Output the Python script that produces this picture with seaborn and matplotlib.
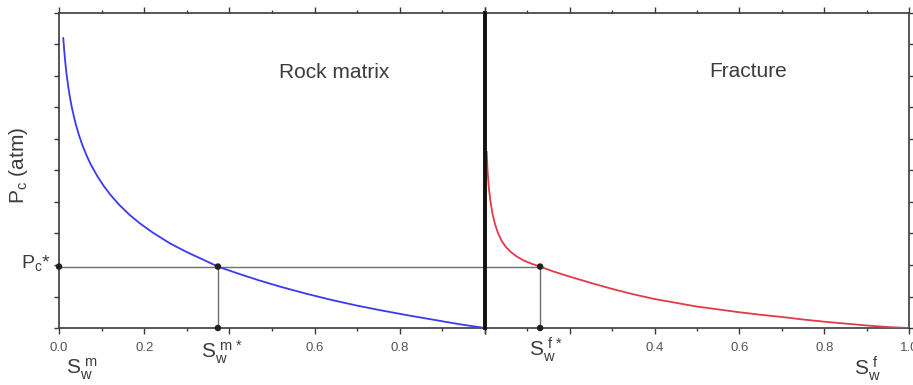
import matplotlib
matplotlib.use("Agg")
import matplotlib.pyplot as plt
import seaborn as sns
import pandas as pd
from matplotlib.ticker import MultipleLocator, FixedLocator

sns.set_style("white")
plt.rcParams["font.family"] = ["Liberation Sans", "DejaVu Sans"]
plt.rcParams["mathtext.fontset"] = "custom"
plt.rcParams["mathtext.rm"] = "Liberation Sans"
plt.rcParams["mathtext.it"] = "Liberation Sans"

# Capillary pressure curves (water saturation vs Pc)
sw_matrix = [0.01, 0.012, 0.015, 0.018, 0.022, 0.026, 0.03, 0.035, 0.04, 0.047,
             0.055, 0.065, 0.075, 0.09, 0.105, 0.12, 0.14, 0.165, 0.19, 0.22,
             0.26, 0.3, 0.34, 0.373, 0.42, 0.47, 0.52, 0.58, 0.64, 0.7, 0.76,
             0.82, 0.88, 0.94, 1.0]
pc_matrix = [9.21, 8.85, 8.4, 8.03, 7.63, 7.3, 7.01, 6.71, 6.44, 6.12,
             5.8, 5.47, 5.18, 4.82, 4.51, 4.24, 3.93, 3.6, 3.32, 3.03,
             2.69, 2.41, 2.16, 1.95, 1.73, 1.51, 1.31, 1.09, 0.89, 0.71, 0.55,
             0.4, 0.26, 0.12, 0.0]

sw_fracture = [0.004, 0.006, 0.009, 0.013, 0.018, 0.024, 0.031, 0.04, 0.05, 0.062,
               0.076, 0.092, 0.11, 0.13, 0.16, 0.2, 0.25, 0.3, 0.35, 0.4, 0.45,
               0.5, 0.55, 0.6, 0.65, 0.7, 0.75, 0.8, 0.85, 0.9, 0.95, 1.0]
pc_fracture = [5.6, 5.0, 4.45, 4.0, 3.6, 3.28, 3.0, 2.75, 2.56, 2.4,
               2.26, 2.14, 2.04, 1.95, 1.8, 1.63, 1.43, 1.24, 1.07, 0.92, 0.8,
               0.68, 0.59, 0.5, 0.42, 0.35, 0.27, 0.2, 0.14, 0.08, 0.03, 0.0]

# Equilibrium point
pc_star = 1.95
sw_m_star = 0.373
sw_f_star = 0.13

matrix_ticklabels = ["0.0", "0.2", "", "0.6", "0.8", ""]
fracture_ticklabels = ["", "", "0.4", "0.6", "0.8", "1.0"]
major_ticks = [0.0, 0.2, 0.4, 0.6, 0.8, 1.0]

W, H = 913, 385
fig = plt.figure(figsize=(W / 100, H / 100), dpi=100)
bottom = 1 - 328 / H
height = (328 - 13) / H
ax_m = fig.add_axes([59 / W, bottom, 426 / W, height])
ax_f = fig.add_axes([485 / W, bottom, 424 / W, height])

axis_color = "#3a3a3a"
ref_color = "#707070"

df_m = pd.DataFrame({"Sw": sw_matrix, "Pc": pc_matrix})
df_f = pd.DataFrame({"Sw": sw_fracture, "Pc": pc_fracture})

# reference lines through the equilibrium point
ax_m.plot([0, 1], [pc_star, pc_star], color=ref_color, lw=1.0, zorder=1)
ax_f.plot([0, sw_f_star], [pc_star, pc_star], color=ref_color, lw=1.0, zorder=1)
ax_m.plot([sw_m_star, sw_m_star], [0, pc_star], color=ref_color, lw=1.0, zorder=1)
ax_f.plot([sw_f_star, sw_f_star], [0, pc_star], color=ref_color, lw=1.0, zorder=1)

sns.lineplot(data=df_m, x="Sw", y="Pc", ax=ax_m, color="#3a3af0", lw=1.3,
             sort=False, estimator=None, zorder=3)
sns.lineplot(data=df_f, x="Sw", y="Pc", ax=ax_f, color="#e23a48", lw=1.3,
             sort=False, estimator=None, zorder=3)

pts_m = pd.DataFrame({"x": [0.0, sw_m_star, sw_m_star], "y": [pc_star, pc_star, 0.0]})
pts_f = pd.DataFrame({"x": [sw_f_star, sw_f_star], "y": [pc_star, 0.0]})
sns.scatterplot(data=pts_m, x="x", y="y", ax=ax_m, color="#202020", s=22,
                edgecolor="none", zorder=5, clip_on=False)
sns.scatterplot(data=pts_f, x="x", y="y", ax=ax_f, color="#202020", s=22,
                edgecolor="none", zorder=5, clip_on=False)

for ax, labels in ((ax_m, matrix_ticklabels), (ax_f, fracture_ticklabels)):
    ax.set_xlim(0, 1)
    ax.set_ylim(0, 10)
    ax.set_xlabel("")
    ax.set_ylabel("")
    ax.set_facecolor("white")
    ax.xaxis.set_major_locator(FixedLocator(major_ticks))
    ax.xaxis.set_minor_locator(MultipleLocator(0.1))
    ax.set_xticklabels(labels)
    ax.yaxis.set_major_locator(MultipleLocator(1))
    ax.set_yticklabels([])
    for sp in ax.spines.values():
        sp.set_color(axis_color)
        sp.set_linewidth(1.2)
    ax.tick_params(axis="x", which="major", direction="out", length=4, width=1,
                   color=axis_color, labelsize=9.5, labelcolor="#555555", pad=6,
                   top=True, bottom=True)
    ax.tick_params(axis="x", which="minor", direction="out", length=2.5, width=1,
                   color=axis_color, top=True, bottom=True)
    ax.tick_params(axis="y", which="major", direction="out", length=3.5, width=1,
                   color=axis_color)

ax_m.tick_params(axis="y", left=True, right=False)
ax_m.spines["right"].set_visible(False)
ax_f.tick_params(axis="y", left=False, right=True)
ax_f.spines["left"].set_linewidth(2.8)
ax_f.spines["left"].set_color("#111111")
ax_f.spines["left"].set_zorder(6)

text_color = "#3c3c3c"
ax_m.text(0.645, 0.81, "Rock matrix", transform=ax_m.transAxes, ha="center",
          va="center", fontsize=15, color=text_color)
ax_f.text(0.62, 0.815, "Fracture", transform=ax_f.transAxes, ha="center",
          va="center", fontsize=15, color=text_color)


def fpos(px, py):
    return px / W, 1 - py / H


fig.text(*fpos(18, 165), r"$\mathregular{P_c}$ (atm)", rotation=90, ha="center",
         va="center", fontsize=15, color=text_color)
fig.text(*fpos(36, 263), r"$\mathregular{P_c}$*", ha="center", va="center",
         fontsize=14, color=text_color)
fig.text(*fpos(82, 369), r"$\mathregular{S_w^{\ m}}$", ha="center", va="center",
         fontsize=15, color=text_color)
fig.text(*fpos(222, 352), r"$\mathregular{S_w^{\ m\,*}}$", ha="center", va="center",
         fontsize=15, color=text_color)
fig.text(*fpos(546, 350), r"$\mathregular{S_w^{\ f\,*}}$", ha="center", va="center",
         fontsize=15, color=text_color)
fig.text(*fpos(867, 369), r"$\mathregular{S_w^{\ f}}$", ha="center", va="center",
         fontsize=15, color=text_color)

fig.savefig("out.png", dpi=100, facecolor="white")
